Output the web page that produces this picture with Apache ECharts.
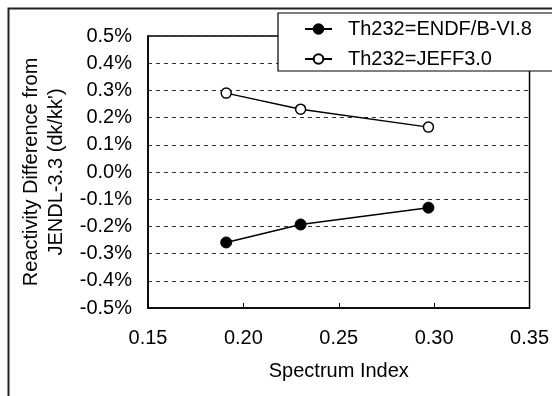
<!DOCTYPE html>
<html>
<head>
<meta charset="utf-8">
<script src="https://cdn.jsdelivr.net/npm/echarts@6/dist/echarts.min.js"></script>
<style>
  html, body { margin: 0; padding: 0; background: #fff; }
  #chart { width: 552px; height: 396px; }
</style>
</head>
<body>
<div id="chart"></div>
<script>
// Spectrum index of each case (x) and reactivity difference in % dk/kk' (y)
const spectrumIndex = [0.191, 0.230, 0.297];
const endfValues = [-0.259, -0.193, -0.131];
const jeffValues = [0.290, 0.231, 0.165];
const seriesNames = ['Th232=ENDF/B-VI.8', 'Th232=JEFF3.0'];
const xTicks = { min: 0.15, max: 0.35, step: 0.05 };
const yTicks = { min: -0.5, max: 0.5, step: 0.1 };

const FONT = '"Liberation Sans", Arial, sans-serif';
const pairs = (xs, ys) => xs.map((x, i) => [x, ys[i]]);

const chart = echarts.init(document.getElementById('chart'), null, { renderer: 'canvas' });

chart.setOption({
  animation: false,
  backgroundColor: '#fff',
  textStyle: { fontFamily: FONT, color: '#000' },
  graphic: [{
    type: 'rect',
    silent: true,
    z: -10,
    shape: { x: 8.5, y: 8.5, width: 600, height: 500 },
    style: { fill: 'none', stroke: '#222', lineWidth: 2 }
  }],
  grid: {
    left: 148, top: 36, right: 16, bottom: 88,
    show: true, borderColor: '#000', borderWidth: 1.5, backgroundColor: 'transparent'
  },
  legend: {
    left: 278, top: 13,
    orient: 'vertical',
    backgroundColor: '#fff',
    borderColor: '#000', borderWidth: 1.2,
    padding: [6, 40, 2, 26],
    itemWidth: 27, itemHeight: 12, itemGap: 10,
    textStyle: { fontFamily: FONT, fontSize: 20, color: '#000', lineHeight: 20, padding: [0, 0, 0, 11] },
    data: seriesNames
  },
  xAxis: {
    type: 'value',
    min: xTicks.min, max: xTicks.max, interval: xTicks.step,
    name: 'Spectrum Index',
    nameLocation: 'middle', nameGap: 53,
    nameTextStyle: { fontFamily: FONT, fontSize: 20, color: '#000' },
    axisLine: { show: true, onZero: false, lineStyle: { color: '#000', width: 1.5 } },
    axisTick: { show: true, inside: true, length: 5, lineStyle: { color: '#000', width: 1 } },
    axisLabel: { fontFamily: FONT, fontSize: 20, color: '#000', margin: 20,
                 formatter: v => v.toFixed(2) },
    splitLine: { show: false }
  },
  yAxis: {
    type: 'value',
    min: yTicks.min, max: yTicks.max, interval: yTicks.step,
    name: 'Reactivity Difference from\nJENDL-3.3 (dk/kk\')',
    nameLocation: 'middle', nameGap: 74, nameRotate: 90,
    nameTextStyle: { fontFamily: FONT, fontSize: 20, color: '#000', lineHeight: 25 },
    axisLine: { show: true, onZero: false, lineStyle: { color: '#000', width: 1.5 } },
    axisTick: { show: false },
    axisLabel: { fontFamily: FONT, fontSize: 20, color: '#000', margin: 16,
                 formatter: v => (Math.abs(v) < 1e-9 ? 0 : v).toFixed(1) + '%' },
    splitLine: { show: true, lineStyle: { color: '#333', width: 1, type: [4, 4] } }
  },
  series: [
    {
      name: seriesNames[0],
      type: 'line',
      data: pairs(spectrumIndex, endfValues),
      symbol: 'circle', symbolSize: 11,
      lineStyle: { color: '#000', width: 1.5 },
      itemStyle: { color: '#000', borderColor: '#000', borderWidth: 1 },
      z: 3
    },
    {
      name: seriesNames[1],
      type: 'line',
      data: pairs(spectrumIndex, jeffValues),
      symbol: 'circle', symbolSize: 10,
      lineStyle: { color: '#000', width: 1.5 },
      itemStyle: { color: '#fff', borderColor: '#000', borderWidth: 1.5 },
      z: 3
    }
  ]
});
</script>
</body>
</html>
